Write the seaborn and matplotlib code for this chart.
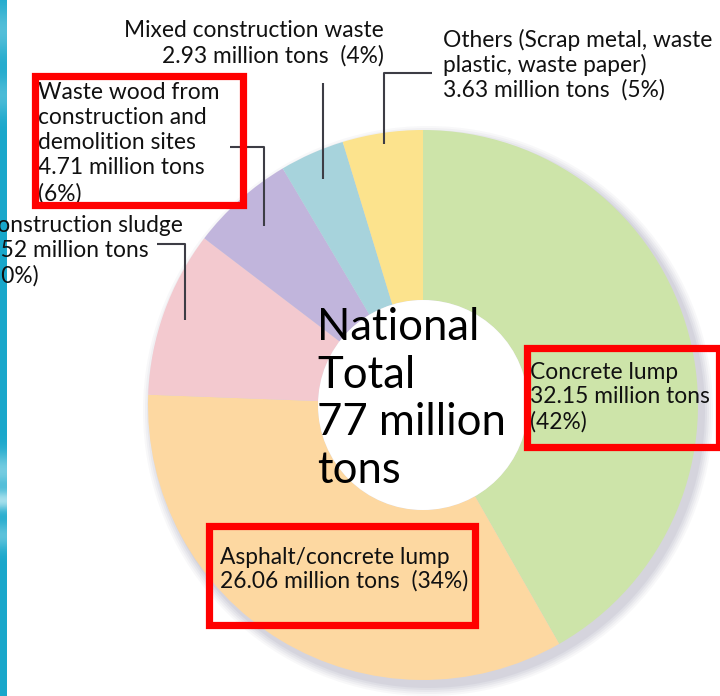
import numpy as np
import matplotlib
matplotlib.use("Agg")
import matplotlib.pyplot as plt
import matplotlib.patches as mpatches
import seaborn as sns

# ---- data -------------------------------------------------------------
categories = [
    "Concrete lump",
    "Asphalt/concrete lump",
    "Construction sludge",
    "Waste wood from construction and demolition sites",
    "Mixed construction waste",
    "Others (Scrap metal, waste plastic, waste paper)",
]
amounts = [32.15, 26.06, 7.52, 4.71, 2.93, 3.63]       # million tons
shares = [42, 34, 10, 6, 4, 5]                          # percent
total_label = 77                                        # million tons
slice_colors = ["#cde4a9", "#fdd8a1", "#f3c9cf", "#c1b5dc", "#a7d3dc", "#fce38d"]

label_texts = [
    "Concrete lump\n{:.2f} million tons\n({}%)",
    "Asphalt/concrete lump\n{:.2f} million tons  ({}%)",
    "Construction sludge\n{:.2f} million tons\n({}%)",
    "Waste wood from\nconstruction and\ndemolition sites\n{:.2f} million tons\n({}%)",
    "Mixed construction waste\n{:.2f} million tons  ({}%)",
    "Others (Scrap metal, waste\nplastic, waste paper)\n{:.2f} million tons  ({}%)",
]

# ---- style ------------------------------------------------------------
sns.set_theme(style="white")
plt.rcParams["font.family"] = ["Lato", "DejaVu Sans"]
palette = sns.color_palette(slice_colors)

W, H = 720, 696
CX, CY, R = 423, 405, 275           # pie centre and radius in pixels
HOLE = 105


def px(x, y):
    """Pixel position (from the top-left corner) to data coordinates."""
    return (x - CX) / R, (CY - y) / R


fig = plt.figure(figsize=(W / 100, H / 100), dpi=100)
ax = fig.add_axes([0, 0, 1, 1])

# soft drop shadow under the ring
for k, a in enumerate([0.05, 0.06, 0.07, 0.08, 0.09]):
    grow = (5 - k) * 2.0 / R
    ax.add_patch(mpatches.Circle((5 / R, -6 / R), 1.0 + grow, color="#7d7896",
                                 alpha=a, lw=0, zorder=0))

wedges, _ = ax.pie(
    amounts,
    colors=palette,
    startangle=90,
    counterclock=False,
    radius=1.0,
    wedgeprops=dict(width=1 - HOLE / R, edgecolor="none", linewidth=0),
)
for w in wedges:
    w.set_zorder(1)
ax.add_patch(mpatches.Circle((0, 0), HOLE / R, color="white", lw=0, zorder=1.5))

x0, _ = px(0, 0)
x1, _ = px(W, 0)
_, y0 = px(0, H)
_, y1 = px(0, 0)
ax.set_xlim(x0, x1)
ax.set_ylim(y0, y1)
ax.set_aspect("auto")
ax.axis("off")

# decorative stripe along the left edge
stripe = np.zeros((H, 1, 3))
base = np.array(matplotlib.colors.to_rgb("#19a7cb"))
light = np.array(matplotlib.colors.to_rgb("#bfeaf2"))
yy = np.arange(H)
mix = np.zeros(H)
for c, s, amp in [(30, 25, 0.35), (95, 20, 0.3), (470, 18, 0.55), (500, 10, 0.8), (535, 14, 0.4)]:
    mix += amp * np.exp(-((yy - c) / s) ** 2)
mix = np.clip(mix, 0, 1)
stripe[:, 0, :] = base * (1 - mix[:, None]) + light * mix[:, None]
sx0, sy0 = px(0, H)
sx1, sy1 = px(7, 0)
ax.imshow(stripe, extent=(sx0, sx1, sy0, sy1), aspect="auto", zorder=5, interpolation="bilinear")

# ---- labels -------------------------------------------------------------
FS = 16.4
texts = [t.format(a, s) for t, a, s in zip(label_texts, amounts, shares)]

# (x, y, ha, linespacing) of each label block, positions in pixels
anchors = [
    (530, 397, "left", 1.21),
    (220, 569.5, "left", 1.10),
    (-18, 250.5, "left", 1.24),
    (38, 143, "left", 1.25),
    (384, 43, "right", 1.24),
    (443, 64.5, "left", 1.18),
]
for txt, (ax_px, ay_px, ha, ls) in zip(texts, anchors):
    tx, ty = px(ax_px, ay_px)
    ax.text(tx, ty, txt, ha=ha, va="center", fontsize=FS, linespacing=ls,
            color="#111111", zorder=6)

# centre caption
cx_, cy_ = px(317, 399)
ax.text(cx_, cy_, f"National\nTotal\n{total_label} million\ntons", ha="left", va="center",
        fontsize=31.4, linespacing=1.20, color="black", zorder=6)

# ---- leader lines for the small slices -----------------------------------
angles = []
start = 90.0
tot = sum(amounts)
for a in amounts:
    span = 360.0 * a / tot
    angles.append(start - span / 2)
    start -= span

# slice index -> (radius fraction, elbow y in px, horizontal end x in px or None)
leaders = {
    5: (0.96, 73, 432),
    4: (0.90, 83, None),
    3: (0.87, 147, 230),
    2: (0.92, 244, 157),
}
for i, (rf, ey, hx) in leaders.items():
    th = np.deg2rad(angles[i])
    ex, eyy = rf * np.cos(th), rf * np.sin(th)
    _, elbow_y = px(0, ey)
    xs = [ex, ex]
    ys = [eyy, elbow_y]
    if hx is not None:
        hxd, _ = px(hx, 0)
        xs.append(hxd)
        ys.append(elbow_y)
    ax.plot(xs, ys, color="#3d3d45", lw=1.5, solid_capstyle="butt", zorder=4)

# ---- red highlight frames ------------------------------------------------
frames = [
    (35.5, 76, 243.5, 204.5),
    (527, 347.5, 718.5, 447),
    (209, 526, 475.5, 624.5),
]
for l, t, r, b in frames:
    lx, by = px(l, b)
    rx, ty = px(r, t)
    ax.add_patch(mpatches.Rectangle((lx, by), rx - lx, ty - by, fill=False,
                                    edgecolor="#ff0000", lw=5.2, zorder=7,
                                    joinstyle="miter"))

fig.savefig("out.png", dpi=100)
